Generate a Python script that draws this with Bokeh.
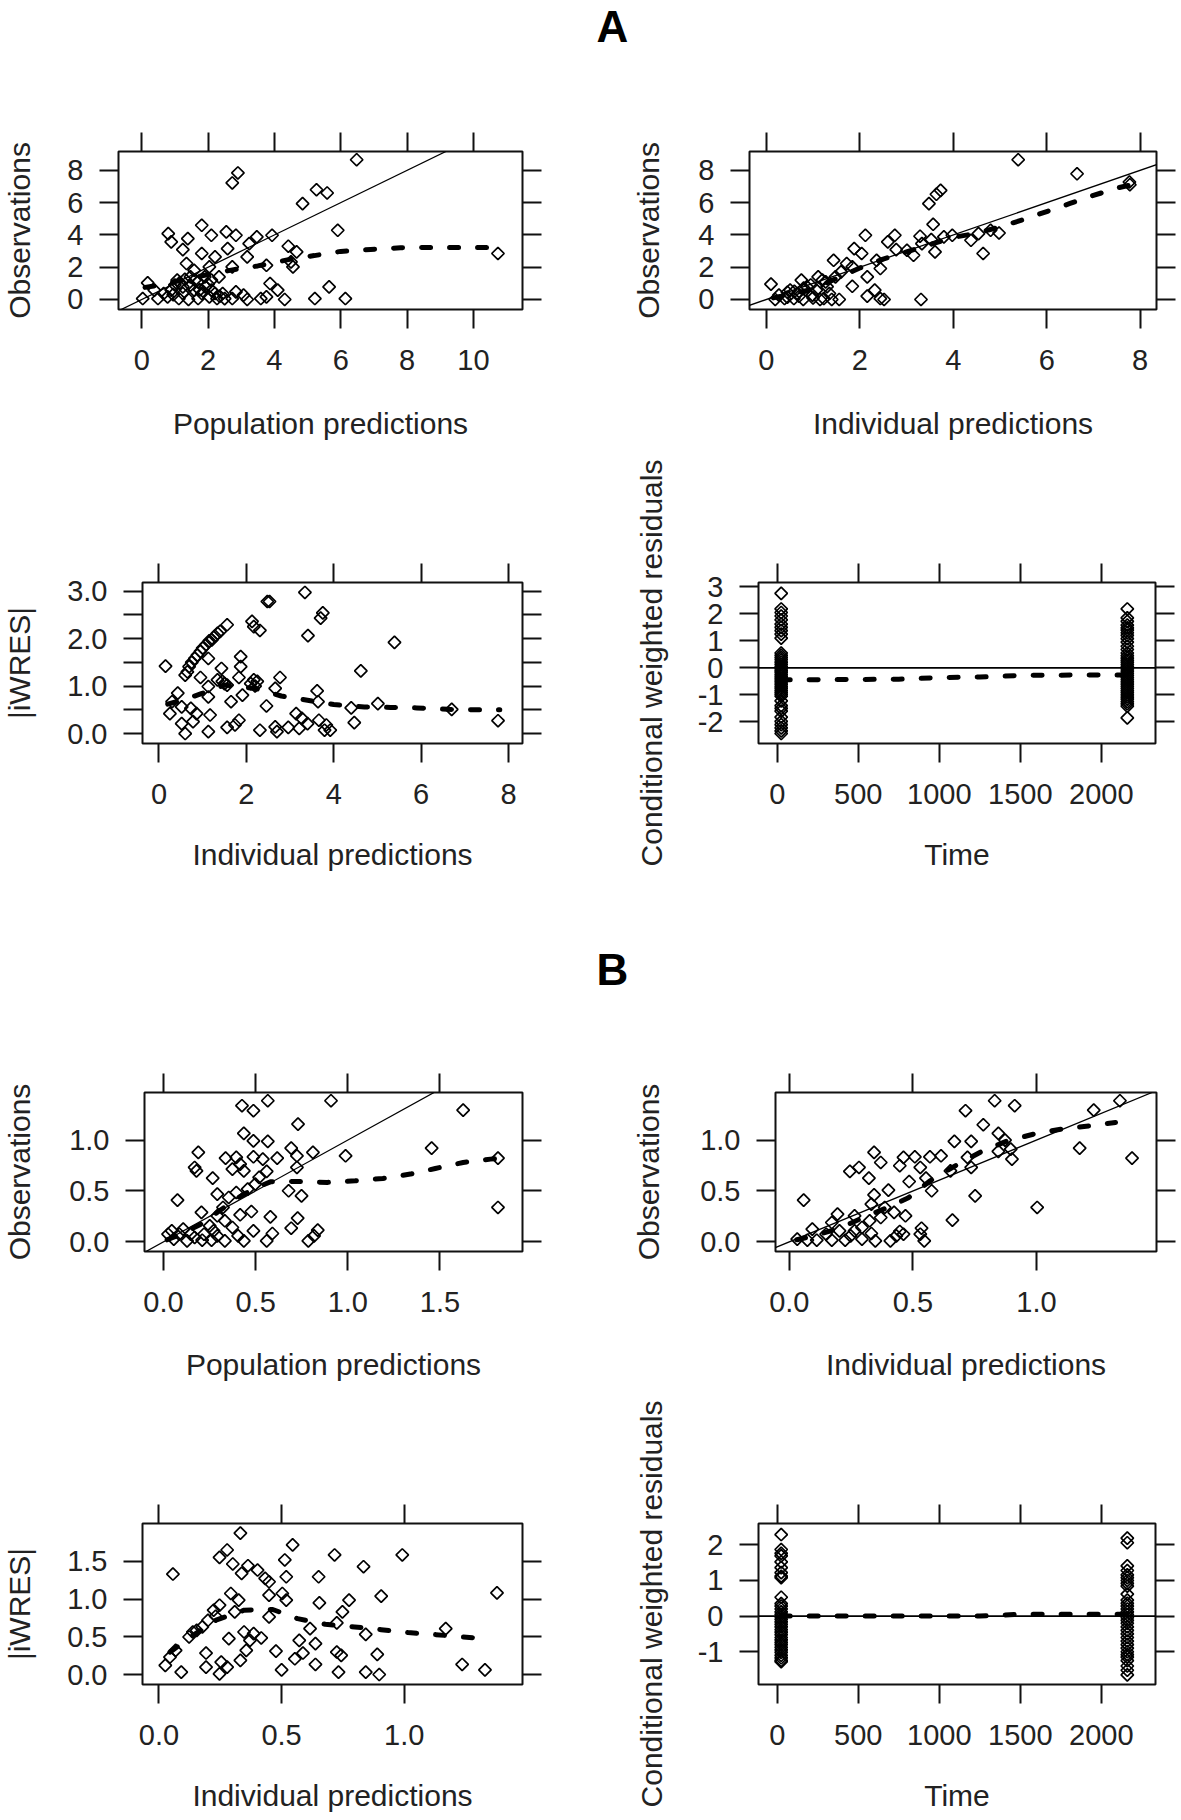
import math
from bokeh.plotting import figure
from bokeh.models import Range1d, FixedTicker, LinearAxis, Slope, Span, Label, PrintfTickFormatter
from bokeh.layouts import column, row
from bokeh.embed import file_html
from bokeh.resources import INLINE

FONT = "Liberation Sans"

# ---------------- Panel A ----------------
# A1: Observations vs population predictions
a1_pred = [6.48, 2.90, 2.73, 5.27, 5.59, 4.85, 5.91, 1.81, 2.10, 2.55, 2.84, 0.80, 0.89, 1.39, 1.24,
           1.81, 2.21, 2.59, 3.18, 3.24, 3.47, 3.93, 3.76, 4.42, 4.67, 4.56, 4.50, 1.35, 1.58, 2.04,
           2.33, 2.73, 3.87, 4.10, 5.65, 5.22, 6.14, 4.31, 3.59, 3.76, 2.84, 3.07, 3.18, 2.73, 2.44,
           2.27, 2.04, 1.70, 1.41, 1.12, 0.78, 0.49, 0.03, 0.18, 0.38, 0.66, 0.89, 1.07, 1.24, 1.47,
           1.70, 1.92, 2.10, 1.58, 1.81, 1.24, 10.74, 2.10, 1.47, 2.21,
           1.00, 1.15, 1.30, 1.60, 1.90, 2.00, 1.75, 2.35, 2.50, 0.95]
a1_obs = [8.66, 7.84, 7.22, 6.80, 6.60, 5.94, 4.29, 4.60, 3.98, 4.19, 3.98, 4.08, 3.57, 3.77, 3.09,
          2.85, 2.64, 3.15, 2.64, 3.46, 3.88, 3.98, 2.12, 3.30, 2.95, 2.02, 2.33, 2.23, 1.81, 2.02,
          1.40, 2.02, 0.99, 0.58, 0.78, 0.06, 0.06, 0.00, 0.06, 0.16, 0.47, 0.27, 0.00, 0.06, 0.37,
          0.06, 0.16, 0.06, 0.00, 0.06, 0.16, 0.06, 0.06, 1.03, 0.58, 0.37, 0.58, 1.20, 0.78, 1.40,
          1.09, 0.78, 0.58, 0.58, 0.37, 0.37, 2.85, 1.20, 0.89, 0.37,
          0.90, 1.05, 1.25, 1.20, 1.40, 0.95, 0.60, 0.20, 0.05, 0.30]
a1_smooth_x = [0.1, 0.6, 1.2, 2.0, 2.7, 3.5, 4.5, 5.2, 6.0, 6.9, 7.8, 8.6, 9.5, 10.3, 10.74]
a1_smooth_y = [0.75, 0.90, 1.20, 1.55, 1.82, 2.08, 2.50, 2.72, 2.98, 3.10, 3.20, 3.22, 3.22, 3.22, 3.20]

# A2: Observations vs individual predictions
a2_ipred = [5.39, 6.65, 7.77, 7.78, 3.73, 3.64, 3.48, 3.57, 3.29, 3.53, 3.80, 3.98, 4.38, 4.54, 4.80,
            4.98, 4.64, 3.61, 3.15, 3.31, 2.75, 2.60, 2.78, 2.12, 1.88, 2.04, 1.44, 1.72, 1.84, 2.44,
            2.16, 1.84, 2.16, 2.32, 2.44, 2.52, 0.45, 1.56, 1.35, 1.23, 1.07, 1.11, 1.27, 0.75, 0.87,
            0.67, 0.51, 0.39, 0.19, 0.10, 0.27, 0.59, 0.79, 0.99, 1.15, 1.40, 1.48, 1.60, 2.36, 3.01,
            3.33, 0.60, 0.80, 0.95, 1.20, 1.30, 0.70, 0.45, 1.00]
a2_obs = [8.66, 7.79, 7.28, 7.11, 6.76, 6.52, 5.94, 4.66, 3.92, 3.71, 3.88, 3.98, 3.67, 4.08, 4.29,
          4.12, 2.85, 2.95, 2.74, 0.00, 3.98, 3.57, 3.09, 3.98, 3.15, 2.85, 2.43, 2.23, 2.02, 1.92,
          1.40, 0.82, 0.21, 0.58, 0.06, 0.00, 0.45, 0.00, 0.37, 0.06, 0.58, 1.40, 1.09, 1.20, 0.78,
          0.37, 0.58, 0.06, 0.00, 0.95, 0.27, 0.06, 0.00, 0.27, 0.00, 0.00, 1.40, 1.71, 2.43, 3.05,
          3.46, 0.50, 0.70, 0.90, 1.20, 0.80, 0.20, 0.15, 0.10]
a2_smooth_x = [0.15, 0.5, 1.0, 1.5, 2.0, 2.5, 3.0, 3.5, 4.0, 4.5, 5.0, 5.5, 6.0, 6.5, 7.0, 7.5, 7.8]
a2_smooth_y = [0.10, 0.30, 0.65, 1.30, 1.95, 2.50, 2.95, 3.40, 3.85, 4.10, 4.50, 4.95, 5.45, 5.95, 6.45, 6.90, 7.10]

# A3: |iWRES| vs individual predictions
a3_ipred = [3.34, 2.48, 2.53, 3.75, 3.70, 3.41, 2.13, 2.17, 2.31, 1.56, 1.34, 1.21, 1.08, 0.95, 0.82,
            0.69, 0.60, 1.13, 0.95, 0.15, 1.43, 1.87, 1.87, 1.83, 1.34, 1.56, 2.17, 2.77, 2.66, 1.13,
            1.13, 1.91, 1.65, 2.46, 3.62, 3.64, 4.62, 5.39, 5.01, 4.40, 4.47, 6.70, 7.76, 0.25, 0.43,
            0.30, 0.52, 0.73, 0.86, 0.52, 0.60, 0.78, 1.13, 1.17, 1.56, 1.74, 1.83, 2.31, 2.66, 2.70,
            2.96, 3.21, 3.27, 3.40, 3.66, 3.79, 3.92, 3.83, 3.14,
            0.65, 0.75, 0.88, 1.00, 1.15, 1.28, 1.40, 2.10, 2.20, 2.25, 1.50, 1.45]
a3_iwres = [2.97, 2.78, 2.78, 2.54, 2.43, 2.06, 2.36, 2.25, 2.17, 2.29, 2.11, 1.97, 1.87, 1.73, 1.58,
            1.41, 1.23, 1.58, 1.18, 1.42, 1.37, 1.62, 1.41, 1.18, 1.13, 1.02, 1.13, 1.18, 0.95, 0.99,
            0.77, 0.81, 0.67, 0.58, 0.90, 0.67, 1.32, 1.92, 0.63, 0.54, 0.23, 0.51, 0.27, 0.42, 0.85,
            0.67, 0.56, 0.53, 0.42, 0.21, 0.00, 0.25, 0.04, 0.39, 0.13, 0.18, 0.28, 0.07, 0.14, 0.04,
            0.13, 0.11, 0.32, 0.21, 0.28, 0.07, 0.07, 0.18, 0.42,
            1.30, 1.50, 1.65, 1.80, 1.95, 2.05, 2.15, 1.05, 1.00, 1.10, 1.05, 1.10]
a3_smooth_x = [0.2, 0.6, 1.0, 1.5, 2.2, 2.8, 3.4, 4.0, 4.7, 5.3, 5.9, 6.6, 7.2, 7.8]
a3_smooth_y = [0.62, 0.72, 0.85, 1.02, 0.95, 0.79, 0.70, 0.61, 0.56, 0.55, 0.54, 0.51, 0.50, 0.50]

# A4: CWRES vs time (two sampling times)
TIME_EARLY = 24
TIME_LATE = 2160
a4_cwres_early = [2.76, 2.18, 2.05, 1.92, 1.78, 1.62, 1.50, 1.38, 1.25, 1.10, 0.55, 0.46, 0.38, 0.30,
                  0.21, 0.13, 0.05, -0.02, -0.09, -0.16, -0.24, -0.31, -0.38, -0.45, -0.52, -0.60,
                  -0.68, -0.75, -0.83, -0.91, -0.98, -1.05, -1.22, -1.40, -1.50, -1.60, -1.82, -1.98,
                  -2.10, -2.22, -2.33, -2.43]
a4_cwres_late = [2.18, 1.85, 1.72, 1.58, 1.48, 1.40, 1.30, 1.20, 1.08, 0.95, 0.80, 0.68, 0.55, 0.45,
                 0.36, 0.28, 0.20, 0.12, 0.04, -0.04, -0.12, -0.20, -0.28, -0.36, -0.44, -0.52, -0.60,
                 -0.68, -0.76, -0.84, -0.92, -1.00, -1.08, -1.16, -1.25, -1.33, -1.42, -1.85]
a4_smooth_t = [24, 250, 500, 750, 1000, 1250, 1500, 1750, 2000, 2160]
a4_smooth_y = [-0.44, -0.44, -0.43, -0.42, -0.36, -0.34, -0.28, -0.27, -0.26, -0.26]

# ---------------- Panel B ----------------
b1_pred = [0.426, 0.488, 0.566, 0.909, 1.626, 0.730, 0.436, 0.488, 0.566, 0.189, 0.169, 0.179, 0.267,
           0.337, 0.395, 0.416, 0.374, 0.436, 0.488, 0.539, 0.560, 0.617, 0.693, 0.724, 0.811, 0.988,
           1.455, 1.815, 1.815, 0.457, 0.498, 0.519, 0.679, 0.749, 0.724, 0.076, 0.206, 0.292, 0.354,
           0.395, 0.323, 0.292, 0.333, 0.416, 0.477, 0.580, 0.728, 0.693, 0.837, 0.817, 0.786, 0.591,
           0.560, 0.488, 0.436, 0.405, 0.333, 0.292, 0.261, 0.210, 0.169, 0.128, 0.086, 0.056, 0.025,
           0.045, 0.107, 0.148, 0.220, 0.272, 0.251, 0.374]
b1_obs = [1.338, 1.289, 1.387, 1.387, 1.295, 1.157, 1.066, 0.993, 0.987, 0.879, 0.731, 0.698, 0.626,
          0.823, 0.830, 0.764, 0.715, 0.698, 0.836, 0.813, 0.692, 0.823, 0.921, 0.846, 0.879, 0.846,
          0.921, 0.823, 0.338, 0.518, 0.567, 0.633, 0.502, 0.452, 0.731, 0.410, 0.289, 0.469, 0.436,
          0.485, 0.338, 0.256, 0.207, 0.266, 0.298, 0.246, 0.233, 0.134, 0.115, 0.059, 0.010, 0.082,
          0.010, 0.108, 0.010, 0.059, 0.010, 0.059, 0.016, 0.016, 0.043, 0.010, 0.075, 0.026, 0.075,
          0.108, 0.125, 0.075, 0.075, 0.108, 0.157, 0.141]
b1_smooth_x = [0.02, 0.1, 0.2, 0.3, 0.4, 0.5, 0.58, 0.735, 0.889, 1.04, 1.19, 1.34, 1.475, 1.626, 1.774, 1.815]
b1_smooth_y = [0.02, 0.08, 0.17, 0.30, 0.43, 0.53, 0.59, 0.593, 0.584, 0.60, 0.623, 0.666, 0.721, 0.780, 0.813, 0.82]

b2_ipred = [0.831, 0.912, 0.713, 1.232, 1.338, 0.785, 0.668, 0.736, 0.846, 0.873, 0.896, 0.901, 0.846,
            1.175, 1.387, 0.752, 1.003, 0.660, 0.058, 0.343, 0.245, 0.282, 0.322, 0.370, 0.447, 0.462,
            0.508, 0.530, 0.569, 0.614, 0.485, 0.553, 0.576, 0.652, 0.721, 0.736, 0.401, 0.343, 0.332,
            0.386, 0.424, 0.470, 0.370, 0.325, 0.264, 0.195, 0.294, 0.332, 0.348, 0.294, 0.248, 0.203,
            0.149, 0.111, 0.093, 0.073, 0.032, 0.172, 0.226, 0.409, 0.433, 0.447, 0.462, 0.535, 0.546,
            0.530, 0.264, 0.172]
b2_obs = [1.387, 1.338, 1.289, 1.295, 1.387, 1.151, 0.987, 0.987, 1.066, 1.000, 0.911, 0.813, 0.889,
          0.921, 0.823, 0.452, 0.338, 0.213, 0.410, 0.879, 0.692, 0.731, 0.626, 0.780, 0.748, 0.830,
          0.836, 0.731, 0.836, 0.846, 0.593, 0.626, 0.502, 0.698, 0.830, 0.731, 0.508, 0.462, 0.370,
          0.338, 0.289, 0.256, 0.239, 0.207, 0.256, 0.272, 0.141, 0.082, 0.010, 0.026, 0.059, 0.108,
          0.075, 0.016, 0.125, 0.016, 0.026, 0.016, 0.016, 0.010, 0.059, 0.102, 0.075, 0.134, 0.010,
          0.075, 0.108, 0.190]
b2_smooth_x = [0.03, 0.1, 0.2, 0.3, 0.4, 0.48, 0.57, 0.68, 0.78, 0.88, 1.0, 1.1, 1.22, 1.32]
b2_smooth_y = [0.02, 0.06, 0.13, 0.24, 0.34, 0.43, 0.60, 0.76, 0.89, 0.99, 1.066, 1.108, 1.141, 1.174]

b3_ipred = [0.332, 0.278, 0.247, 0.301, 0.363, 0.337, 0.057, 0.545, 0.513, 0.519, 0.716, 0.992, 0.834,
            0.651, 0.402, 0.433, 0.449, 0.449, 0.503, 0.519, 0.293, 0.325, 0.309, 0.247, 0.223, 0.200,
            0.154, 0.123, 0.068, 0.045, 0.026, 0.091, 0.192, 0.192, 0.247, 0.278, 0.254, 0.285, 0.332,
            0.356, 0.371, 0.347, 0.386, 0.417, 0.449, 0.477, 0.500, 0.554, 0.572, 0.587, 0.616, 0.638,
            0.638, 0.654, 0.725, 0.748, 0.775, 0.725, 0.743, 0.732, 0.843, 0.843, 0.890, 0.906, 0.898,
            1.169, 1.236, 1.329, 1.378, 0.138, 0.177, 0.231]
b3_iwres = [1.872, 1.650, 1.553, 1.465, 1.442, 1.341, 1.332, 1.717, 1.518, 1.296, 1.584, 1.584, 1.429,
            1.296, 1.385, 1.274, 1.230, 1.053, 1.075, 0.987, 1.075, 0.987, 0.832, 0.920, 0.854, 0.721,
            0.588, 0.500, 0.323, 0.235, 0.124, 0.035, 0.102, 0.288, 0.013, 0.102, 0.168, 0.478, 0.190,
            0.323, 0.456, 0.566, 0.544, 0.487, 0.765, 0.314, 0.066, 0.212, 0.456, 0.288, 0.611, 0.412,
            0.137, 0.951, 0.686, 0.832, 0.987, 0.301, 0.257, 0.035, 0.535, 0.035, 0.270, 1.040, 0.004,
            0.611, 0.137, 0.066, 1.084, 0.566, 0.633, 0.774]
b3_smooth_x = [0.045, 0.138, 0.231, 0.347, 0.464, 0.565, 0.678, 0.798, 0.906, 1.015, 1.129, 1.241, 1.354]
b3_smooth_y = [0.30, 0.52, 0.72, 0.854, 0.863, 0.743, 0.668, 0.633, 0.597, 0.558, 0.531, 0.500, 0.473]

b4_cwres_early = [2.29, 1.87, 1.76, 1.69, 1.52, 1.36, 1.22, 1.12, 1.08, 0.53, 0.35, 0.28, 0.20, 0.12,
                  0.05, -0.02, -0.09, -0.16, -0.23, -0.30, -0.38, -0.45, -0.52, -0.60, -0.67, -0.74,
                  -0.80, -0.88, -0.95, -1.02, -1.10, -1.17, -1.24, -1.28]
b4_cwres_late = [2.19, 2.06, 1.41, 1.28, 1.16, 1.08, 1.00, 0.92, 0.84, 0.62, 0.45, 0.36, 0.28, 0.20,
                 0.12, 0.04, -0.04, -0.12, -0.20, -0.30, -0.40, -0.50, -0.60, -0.70, -0.80, -0.90,
                 -1.00, -1.08, -1.15, -1.25, -1.40, -1.52, -1.65]
b4_smooth_t = [24, 250, 500, 750, 1000, 1250, 1500, 1750, 2000, 2160]
b4_smooth_y = [0.0, 0.0, 0.0, 0.0, 0.0, 0.0, 0.05, 0.05, 0.05, 0.05]

# ---------------- helpers ----------------
def style_axis(ax, ticks, fmt=None, overrides=None, show_labels=True):
    ax.ticker = FixedTicker(ticks=ticks)
    if fmt:
        ax.formatter = PrintfTickFormatter(format=fmt)
    if overrides:
        ax.major_label_overrides = overrides
    ax.axis_line_color = None
    ax.major_tick_in = 0
    ax.major_tick_out = 19
    ax.major_tick_line_width = 2
    ax.major_tick_line_color = "#111111"
    ax.minor_tick_line_color = None
    ax.major_label_text_font = FONT
    ax.axis_label_text_font = FONT
    ax.axis_label_text_font_size = "30px"
    ax.axis_label_text_font_style = "normal"
    ax.axis_label_text_color = "#222222"
    if show_labels:
        ax.major_label_text_font_size = "29px"
        ax.major_label_text_color = "#222222"
    else:
        # mirrored ticks only (top / right), no labels drawn
        ax.major_label_text_font_size = "1px"
        ax.major_label_text_color = None
        ax.major_label_standoff = 0


def panel(w, h, L, R, T, B, xr, yr, xt, yt, xfmt, yfmt, xlab, ylab, yls, xls, yover=None):
    p = figure(width=w, height=h, x_range=Range1d(*xr), y_range=Range1d(*yr),
               output_backend="svg", toolbar_location=None,
               min_border_left=L, min_border_right=R, min_border_top=T, min_border_bottom=B,
               background_fill_color="white", border_fill_color="white")
    p.grid.visible = False
    p.outline_line_color = "#111111"
    p.outline_line_width = 2
    xa = p.xaxis[0]
    ya = p.yaxis[0]
    style_axis(xa, xt, xfmt)
    style_axis(ya, yt, yfmt, yover)
    xa.axis_label = xlab
    ya.axis_label = ylab
    xa.major_label_standoff = 21
    ya.major_label_standoff = 16
    xa.axis_label_standoff = xls
    ya.axis_label_standoff = yls
    top = LinearAxis()
    style_axis(top, xt, show_labels=False)
    right = LinearAxis()
    style_axis(right, yt, show_labels=False)
    p.add_layout(top, "above")
    p.add_layout(right, "right")
    return p


def points(p, x, y):
    p.scatter(x, y, marker="square", size=8.8, angle=math.pi / 4, fill_color=None,
              line_color="black", line_width=1.7)


def smooth(p, x, y):
    p.line(x, y, line_width=5, line_dash="9 19", line_cap="round", line_color="black")


def identity(p):
    p.add_layout(Slope(gradient=1, y_intercept=0, line_color="black", line_width=1.3))


def zero(p):
    p.add_layout(Span(location=0, dimension="width", line_color="black", line_width=1.6))


def band(h, letter, ymid):
    p = figure(width=1181, height=h, x_range=Range1d(0, 1181), y_range=Range1d(h, 0),
               output_backend="svg", toolbar_location=None, min_border=0,
               x_axis_location=None, y_axis_location=None, outline_line_color=None)
    p.grid.visible = False
    p.add_layout(Label(x=612, y=ymid, text=letter, text_font=FONT, text_font_size="44px",
                       text_font_style="bold", text_align="center", text_baseline="middle",
                       text_color="black"))
    return p


WL, WR = 588, 593
T_IWRES = [0, 0.5, 1.0, 1.5, 2.0, 2.5, 3.0]
IWRES_OVR = {0.5: "", 1.5: "", 2.5: ""}
TIME_TICKS = [0, 500, 1000, 1500, 2000]

# Row 1
pA1 = panel(WL, 380, 115, 66, 83, 139, (-0.70, 11.48), (-0.62, 9.17), [0, 2, 4, 6, 8, 10], [0, 2, 4, 6, 8],
            "%d", "%d", "Population predictions", "Observations", 28, 34)
points(pA1, a1_pred, a1_obs); identity(pA1); smooth(pA1, a1_smooth_x, a1_smooth_y)

pA2 = panel(WR, 380, 161, 25, 83, 139, (-0.36, 8.35), (-0.62, 9.17), [0, 2, 4, 6, 8], [0, 2, 4, 6, 8],
            "%d", "%d", "Individual predictions", "Observations", 30, 34)
points(pA2, a2_ipred, a2_obs); identity(pA2); smooth(pA2, a2_smooth_x, a2_smooth_y)

# Row 2
pA3 = panel(WL, 436, 141, 66, 134, 141, (-0.377, 8.32), (-0.21, 3.18), [0, 2, 4, 6, 8], T_IWRES,
            "%d", "%.1f", "Individual predictions", "|iWRES|", 28, 31, IWRES_OVR)
points(pA3, a3_ipred, a3_iwres); smooth(pA3, a3_smooth_x, a3_smooth_y)

pA4 = panel(WR, 436, 170, 26, 134, 141, (-116, 2334), (-2.80, 3.16), TIME_TICKS, [-2, -1, 0, 1, 2, 3],
            "%d", "%d", "Time", "Conditional weighted residuals", 27, 31)
points(pA4, [TIME_EARLY] * len(a4_cwres_early) + [TIME_LATE] * len(a4_cwres_late),
       a4_cwres_early + a4_cwres_late)
zero(pA4); smooth(pA4, a4_smooth_t, a4_smooth_y)

# Row 3
pB1 = panel(WL, 382, 141, 66, 84, 139, (-0.103, 1.948), (-0.095, 1.468), [0, 0.5, 1.0, 1.5], [0, 0.5, 1.0],
            "%.1f", "%.1f", "Population predictions", "Observations", 30, 33)
points(pB1, b1_pred, b1_obs); identity(pB1); smooth(pB1, b1_smooth_x, b1_smooth_y)

pB2 = panel(WR, 382, 187, 25, 84, 139, (-0.056, 1.486), (-0.095, 1.468), [0, 0.5, 1.0], [0, 0.5, 1.0],
            "%.1f", "%.1f", "Individual predictions", "Observations", 32, 33)
points(pB2, b2_ipred, b2_obs); identity(pB2); smooth(pB2, b2_smooth_x, b2_smooth_y)

# Row 4
pB3 = panel(WL, 430, 141, 66, 133, 136, (-0.067, 1.482), (-0.128, 2.0), [0, 0.5, 1.0], [0, 0.5, 1.0, 1.5],
            "%.1f", "%.1f", "Individual predictions", "|iWRES|", 28, 31)
points(pB3, b3_ipred, b3_iwres); smooth(pB3, b3_smooth_x, b3_smooth_y)

pB4 = panel(WR, 430, 170, 26, 133, 136, (-116, 2334), (-1.92, 2.60), TIME_TICKS, [-1, 0, 1, 2],
            "%d", "%d", "Time", "Conditional weighted residuals", 27, 31)
points(pB4, [TIME_EARLY] * len(b4_cwres_early) + [TIME_LATE] * len(b4_cwres_late),
       b4_cwres_early + b4_cwres_late)
zero(pB4); smooth(pB4, b4_smooth_t, b4_smooth_y)

layout = column(
    band(68, "A", 26),
    row(pA1, pA2, spacing=0),
    row(pA3, pA4, spacing=0),
    band(124, "B", 84.5),
    row(pB1, pB2, spacing=0),
    row(pB3, pB4, spacing=0),
    spacing=0,
)

open("out.html", "w").write(file_html(layout, INLINE))
